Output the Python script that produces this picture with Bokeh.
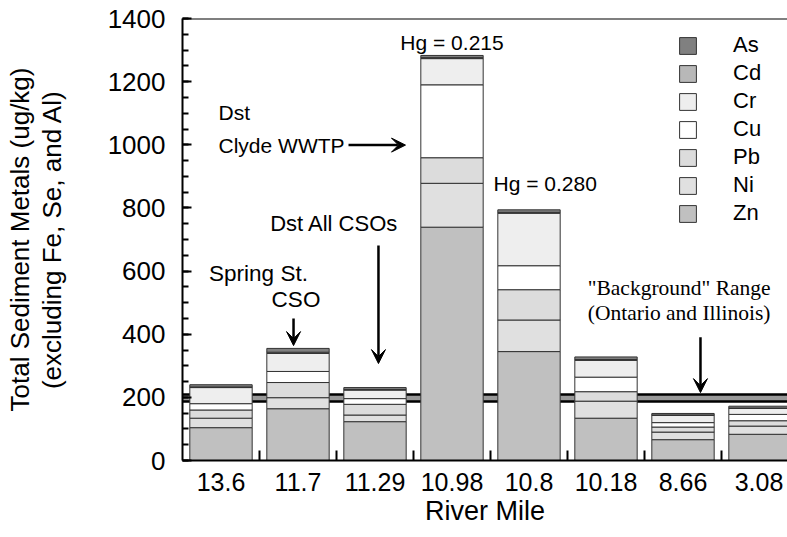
from bokeh.plotting import figure
from bokeh.models import (Range1d, FixedTicker, SingleIntervalTicker, LinearAxis, Legend,
                          LegendItem, Label, Arrow, VeeHead, ColumnDataSource, Span)
from bokeh.embed import file_html
from bokeh.resources import INLINE

# ---------------- data ----------------
river_miles = ["13.6", "11.7", "11.29", "10.98", "10.8", "10.18", "8.66", "3.08"]
metals = ["Zn", "Ni", "Pb", "Cu", "Cr", "Cd", "As"]          # bottom -> top
zn = [104, 164, 123, 739, 345, 134, 66, 83]
ni = [30, 35, 21, 139, 100, 54, 24, 26]
pb = [26, 48, 34, 81, 96, 30, 16, 17]
cu = [20, 35, 18, 231, 76, 46, 14, 20]
cr = [51, 57, 27, 83, 166, 53, 23, 19]
cd = [2, 4, 2, 3, 3, 3, 1, 1]
as_ = [7, 12, 6, 7, 8, 8, 5, 6]
background_range = [186, 209]
y_ticks_interval = 200

colors = {"Zn": "#c0c0c0", "Ni": "#e0e0e0", "Pb": "#dcdcdc", "Cu": "#ffffff",
          "Cr": "#eeeeee", "Cd": "#b8b8b8", "As": "#808080"}

n = len(river_miles)
xs = [i + 0.5 for i in range(n)]
source = ColumnDataSource(dict(x=xs, Zn=zn, Ni=ni, Pb=pb, Cu=cu, Cr=cr, Cd=cd, As=as_))

# ---------------- figure ----------------
W, H = 787, 537
BL, BT, BB = 182, 18, 77
x_end = (W - BL) / 77.0          # 77 px per river-mile category, last bar clipped
p = figure(width=W, height=H, output_backend="svg", toolbar_location=None,
           x_range=Range1d(0, x_end), y_range=Range1d(0, 1400),
           x_axis_location=None, y_axis_location=None,
           min_border_left=BL, min_border_right=0, min_border_top=BT, min_border_bottom=BB)
p.outline_line_color = None
p.xgrid.visible = False
p.ygrid.visible = False
p.background_fill_color = "white"
p.border_fill_color = "white"

FONT = "Liberation Sans"

# background band
p.hstrip(y0=[background_range[0]], y1=[background_range[1]], fill_color="#999999", line_color=None)
p.hspan(y=background_range, line_color="black", line_width=2.7)

# stacked bars
renderers = p.vbar_stack(metals, x="x", width=0.81, source=source,
                         fill_color=[colors[m] for m in metals],
                         line_color="#333333", line_width=1)

# boundary ticks on the x axis
bounds = [i for i in range(1, n)]
p.segment(x0=bounds, y0=[0] * len(bounds), x1=bounds, y1=[32] * len(bounds),
          line_color="black", line_width=2)

# top frame line
p.add_layout(Span(location=1400, dimension="width", line_color="black", line_width=2))

# axes
yax = LinearAxis(ticker=SingleIntervalTicker(interval=y_ticks_interval, num_minor_ticks=4),
                 axis_label="Total Sediment Metals (ug/kg)\n(excluding Fe, Se, and Al)")
yax.axis_line_width = 2
yax.major_tick_in = 9
yax.major_tick_out = 0
yax.minor_tick_in = 6
yax.minor_tick_out = 0
yax.major_tick_line_width = 2
yax.minor_tick_line_width = 2
yax.major_label_text_font = FONT
yax.major_label_text_font_size = "26px"
yax.major_label_text_color = "black"
yax.major_label_standoff = 17
yax.axis_label_text_font = FONT
yax.axis_label_text_font_size = "26px"
yax.axis_label_text_font_style = "normal"
yax.axis_label_text_color = "black"
yax.axis_label_text_line_height = 1.05
yax.axis_label_standoff = 38
p.add_layout(yax, "left")

# category labels centred under bars (last one kept inside the canvas)
label_pos = xs[:-1] + [min(xs[-1], x_end - 0.37)]
xax = LinearAxis(ticker=FixedTicker(ticks=label_pos),
                 major_label_overrides={x: lab for x, lab in zip(label_pos, river_miles)},
                 axis_label="River Mile")
xax.axis_line_width = 2
xax.major_tick_in = 0
xax.major_tick_out = 0
xax.minor_tick_in = 0
xax.minor_tick_out = 0
xax.major_label_text_font = FONT
xax.major_label_text_font_size = "25px"
xax.major_label_text_color = "black"
xax.major_label_standoff = 12
xax.axis_label_text_font = FONT
xax.axis_label_text_font_size = "27px"
xax.axis_label_text_font_style = "normal"
xax.axis_label_text_color = "black"
xax.axis_label_standoff = 2
p.add_layout(xax, "below")

# legend
items = [LegendItem(label=m, renderers=[r]) for m, r in zip(metals, renderers)][::-1]
legend = Legend(items=items, location=(495, 234), orientation="vertical",
                glyph_width=21, glyph_height=21, label_height=21, spacing=2,
                label_standoff=35, padding=0, margin=0,
                border_line_color=None, background_fill_alpha=0,
                label_text_font=FONT, label_text_font_size="22px", label_text_color="black")
p.add_layout(legend)

# annotations
def lab(x, y, text, align="left", font=FONT, size="22px", baseline="alphabetic"):
    p.add_layout(Label(x=x, y=y, text=text, text_align=align, text_baseline=baseline,
                       text_font=font, text_font_size=size, text_color="black"))

lab(3.5, 1325, "Hg = 0.215", align="center", size="21px")
lab(4.04, 877, "Hg = 0.280", size="21px")
lab(0.468, 1102, "Dst", size="21px")
lab(0.468, 998, "Clyde WWTP", size="21px")
lab(2.805, 751, "Dst All CSOs", align="right")
lab(0.987, 592, "Spring St.", align="center", size="22.5px")
lab(1.474, 510, "CSO", align="center", size="22.5px")
lab(6.45, 545, "\"Background\" Range", align="center", font="Liberation Serif", size="21.5px")
lab(6.45, 466, "(Ontario and Illinois)", align="center", font="Liberation Serif", size="21.5px")

def arrow(x0, y0, x1, y1):
    p.add_layout(Arrow(x_start=x0, y_start=y0, x_end=x1, y_end=y1,
                       line_color="black", line_width=2.5,
                       end=VeeHead(size=14, fill_color="black", line_color="black", line_width=1)))

arrow(1.442, 450, 1.442, 364)
arrow(2.545, 681, 2.545, 307)
arrow(2.156, 999, 2.896, 999)
arrow(6.727, 390, 6.727, 215)

open("out.html", "w").write(file_html(p, INLINE))
